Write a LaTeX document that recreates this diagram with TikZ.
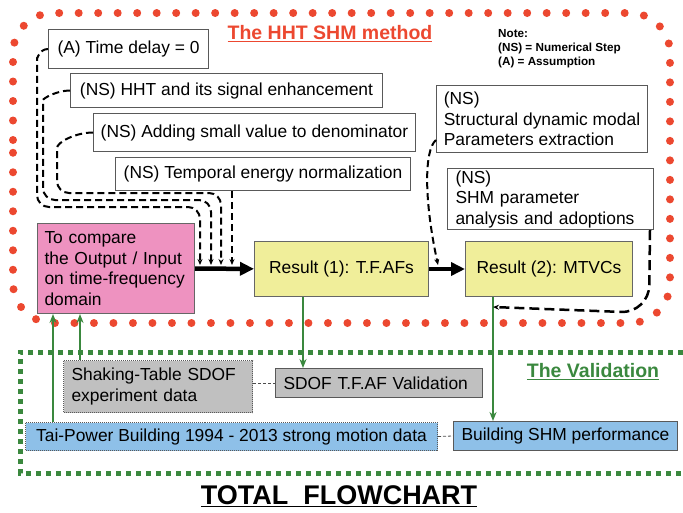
\documentclass[tikz,border=0pt]{standalone}
\usepackage{fontspec}
\setmainfont{Liberation Sans}
\usepackage{xcolor}
\usepackage{tikz}
\usetikzlibrary{arrows.meta,positioning,calc}

\definecolor{hhtred}{RGB}{236,72,48}
\definecolor{valgreen}{RGB}{58,136,62}
\definecolor{cmppink}{RGB}{238,146,192}
\definecolor{resyellow}{RGB}{240,238,154}
\definecolor{datagray}{RGB}{192,192,192}
\definecolor{datablue}{RGB}{142,192,232}
\newcommand{\boxfont}{\fontsize{17.4}{20.5}\selectfont}

\begin{document}
\begin{tikzpicture}[
    x=1pt, y=-1pt,
    nsbox/.style={draw=black!65, line width=1pt, fill=white, anchor=north west, align=left, inner xsep=7pt, inner ysep=2pt, font=\boxfont},
    cmpbox/.style={nsbox, fill=cmppink, draw=black!60},
    resbox/.style={nsbox, fill=resyellow, draw=black!60, align=center, minimum height=55pt},
    databox/.style={nsbox, inner xsep=8pt},
    flow/.style={line width=4.5pt, -{Triangle[length=14pt,width=13pt]}},
    feed/.style={line width=2pt, dash pattern=on 7pt off 4pt, rounded corners=12pt, -{Stealth[length=6pt,width=5pt]}},
    valarrow/.style={draw=valgreen, line width=2.2pt, -{Stealth[length=9pt,width=7pt]}},
    link/.style={draw=black!70, line width=0.8pt, dash pattern=on 3pt off 2pt}
]
\useasboundingbox (0,0) rectangle (683,512);

% borders of the two parts
\draw[hhtred, line width=8pt, line cap=round, dash pattern=on 0pt off 19.5pt, rounded corners=40pt]
    (13,180) -- (13,13) -- (670,13) -- (670,323) -- (13,323) -- cycle;
\draw[valgreen, line width=5pt, dash pattern=on 5pt off 5pt]
    (683,352) -- (20,352) -- (20,473) -- (683,473);

% The HHT SHM method
\node[font=\bfseries\fontsize{19.5}{22}\selectfont, text=hhtred] (hhttitle) at (330,34) {\underline{The HHT SHM method}};
\node[font=\bfseries\fontsize{11.7}{14}\selectfont, align=left, anchor=north west, inner sep=0pt] (note) at (498,29)
    {Note:\\(NS) = Numerical Step\\(A) = Assumption};

\node[nsbox, minimum width=160pt, minimum height=39pt] (delay) at (48,29) {(A) Time delay = 0};
\node[nsbox, minimum width=312pt, minimum height=34pt] (hht) at (70,73) {(NS) HHT and its signal enhancement};
\node[nsbox, minimum width=322pt, minimum height=38pt] (denom) at (93,113) {(NS) Adding small value to denominator};
\node[nsbox, minimum width=295pt, minimum height=33pt] (energy) at (115,157) {(NS) Temporal energy normalization};
\node[nsbox, minimum width=211pt, minimum height=67pt] (modal) at (436,85)
    {(NS)\\Structural dynamic modal\\Parameters extraction};
\node[nsbox, inner xsep=8pt, text width=190pt, minimum height=61pt] (shmpar) at (447,168)
    {(NS)\\SHM parameter\\analysis and adoptions};

\node[cmpbox, text width=143pt, minimum height=90pt] (compare) at (37,223)
    {To compare\\the Output / Input\\on time-frequency\\domain};
\node[resbox, minimum width=174pt] (res1) at (254,241) {Result (1): T.F.AFs};
\node[resbox, minimum width=167pt] (res2) at (465,241) {Result (2): MTVCs};

\draw[flow] (compare) -- (res1);
\draw[flow] (res1) -- (res2);

\coordinate (j1) at (200,265);
\coordinate (j2) at (211,265);
\coordinate (j3) at (221,265);
\coordinate (j4) at (232,265);
\coordinate (j5) at (438,265);

\draw[feed] (delay.west) to[out=180,in=90] (37,70) -- (37,207) -- (200,207) -- (j1);
\draw[feed] (hht.west) to[out=180,in=90] (43,112) -- (43,200) -- (211,200) -- (j2);
\draw[feed] (denom.west) to[out=180,in=90] (57,160) -- (57,193) -- (221,193) -- (j3);
\draw[feed] (energy.south -| j4) -- (j4);
\draw[feed] ([yshift=-21pt]modal.west) .. controls (424,150) and (424,200) .. (j5);

% The Validation
\node[font=\bfseries\fontsize{19.5}{22}\selectfont, text=valgreen] (valtitle) at (593,372) {\underline{The Validation}};

\node[databox, fill=datagray, densely dotted, text width=173pt, minimum height=52pt] (shaking) at (63,360)
    {Shaking-Table SDOF\\experiment data};
\node[databox, fill=datagray, text width=191pt, minimum height=29pt] (sdof) at (275,368) {SDOF T.F.AF Validation};
\node[databox, fill=datablue, densely dotted, minimum width=412pt, minimum height=28pt] (taipower) at (25,422)
    {Tai-Power Building 1994 - 2013 strong motion data};
\node[databox, fill=datablue, minimum width=219pt, minimum height=29pt] (bshm) at (453,421) {Building SHM performance};

\draw[link] (sdof.west -| shaking.east) -- (sdof.west);
\draw[link] (taipower.east) -- (bshm.west);

\coordinate (in1) at ([xshift=16pt]compare.south west);
\coordinate (in2) at ([xshift=43pt]compare.south west);
\coordinate (t1) at ([xshift=49pt]res1.south west);
\coordinate (t2) at ([xshift=28pt]res2.south west);
\coordinate (j6) at ([yshift=-10pt]t2);

\draw[valarrow] (taipower.north -| in1) -- (in1);
\draw[valarrow] (shaking.north -| in2) -- (in2);
\draw[valarrow] (t1) -- (t1 |- sdof.north);
\draw[valarrow] (t2) -- (t2 |- bshm.north);

\draw[feed, line width=2.5pt, dash pattern=on 10pt off 5pt, rounded corners=28pt]
    ([xshift=-4pt]shmpar.south east) -- (649,313) -- (j6);

\node[font=\bfseries\fontsize{27}{30}\selectfont] (total) at (339,496) {\underline{TOTAL\ \ FLOWCHART}};

\end{tikzpicture}
\end{document}
